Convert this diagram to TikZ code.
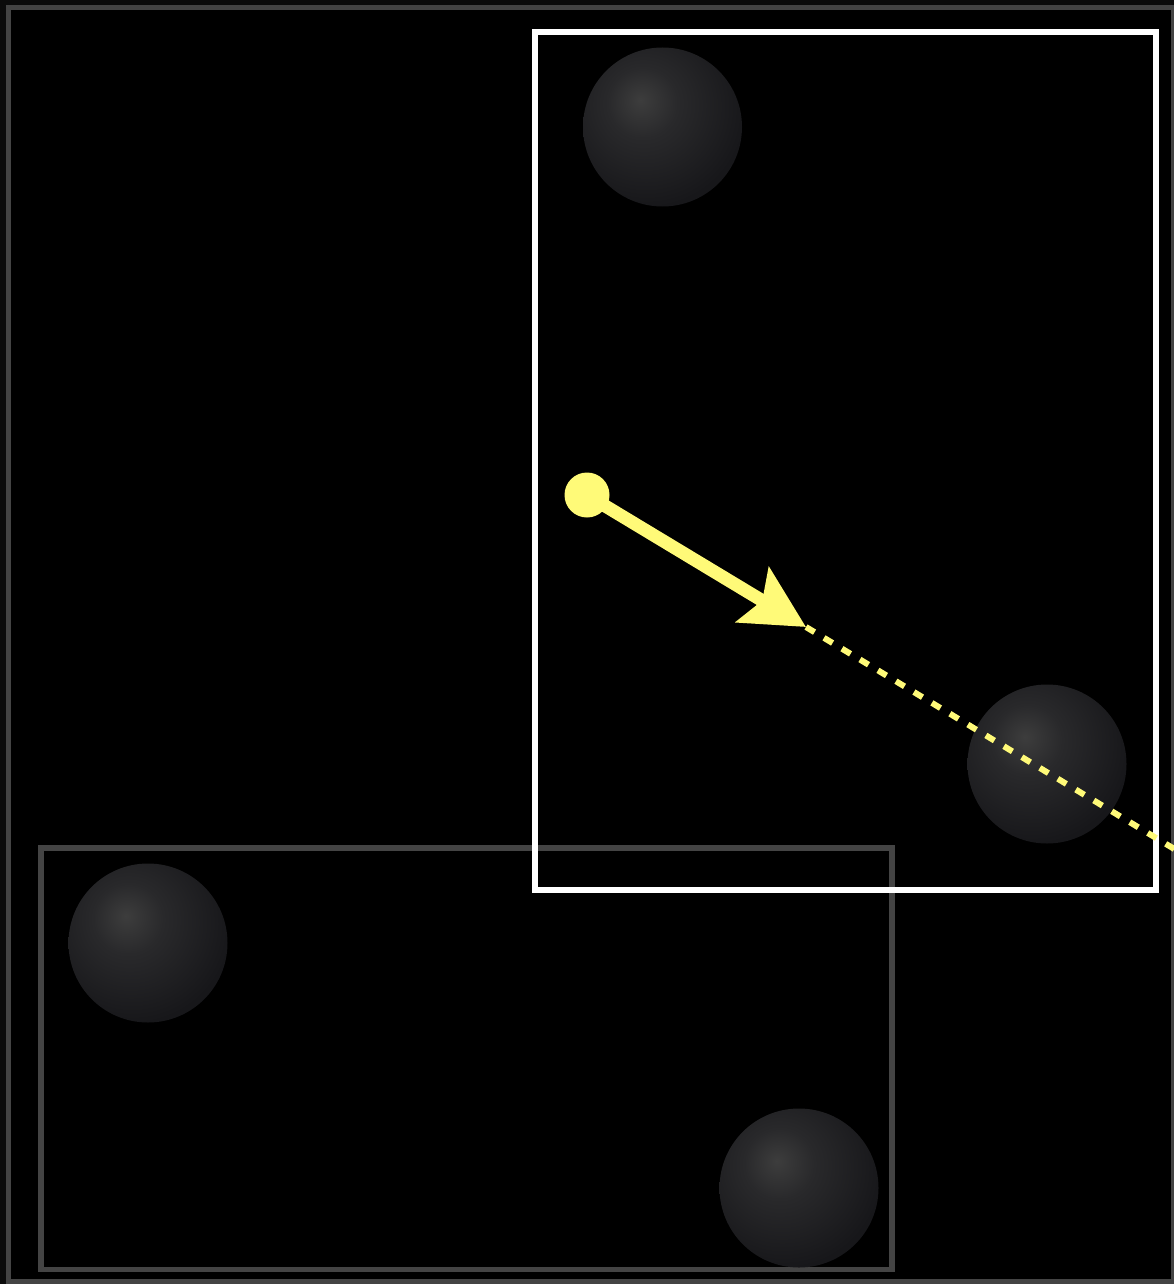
\documentclass[tikz,border=0pt]{standalone}
\usepackage{xcolor}
\usepackage{tikz}
\usetikzlibrary{
arrows.meta,
calc
}
\definecolor{bgouter}{HTML}{0B0B0B}
\definecolor{framegray}{HTML}{444444}
\definecolor{sunyellow}{RGB}{255,250,120}
\definecolor{sphhl}{HTML}{3D3D3D}
\definecolor{sphmid}{HTML}{29292B}
\definecolor{sphedge}{HTML}{17171A}
\pgfdeclareradialshading{sphereshade}{\pgfpoint{-7bp}{8.5bp}}{%
  color(0bp)=(sphhl); color(11bp)=(sphmid);
  color(31bp)=(sphedge); color(100bp)=(sphedge)}

\begin{document}
\begin{tikzpicture}[
  x=1pt, y=-1pt,
  >={Stealth},
  frame/.style={draw=framegray, line width=5.5pt},
  viewbox/.style={draw=white, line width=5.5pt},
  ball/.style={circle, minimum size=159pt, inner sep=0pt,
               shading=sphereshade},
  source/.style={circle, fill=sunyellow, minimum size=45pt, inner sep=0pt},
  push/.style={-{Stealth[length=62pt, width=63pt, inset=11pt]},
               sunyellow, line width=13pt},
  trail/.style={sunyellow, line width=6pt, dash pattern=on 10pt off 11pt}
]

\useasboundingbox (0, 0) rectangle (1174, 1284);
\clip (0, 0) rectangle (1174, 1284);

%% Background and outer frame
\fill[bgouter] (0, 0) rectangle (1174, 1284);
\fill[black] (8.5, 7.5) rectangle (1173.5, 1281.5);
\draw[frame] (8.5, 7.5) rectangle (1173.5, 1281.5);

%% ── REGIONS ─────────────────────────────────────────────────
\draw[frame] (41, 848) rectangle (892, 1269.5);
\draw[viewbox] (535, 32) rectangle (1156, 890);

%% ── SPHERES ─────────────────────────────────────────────────
\node[ball] (topball)   at (662.5, 127) {};
\node[ball] (rightball) at (1047, 764) {};
\node[ball] (leftball)  at (148, 943) {};
\node[ball] (lowball)   at (799, 1188) {};

%% ── LAUNCH ──────────────────────────────────────────────────
\node[source] (src) at (587, 495) {};
\coordinate (tip) at (806, 627);
\coordinate (far) at ($(src.center)!2.8!(tip)$);

\draw[trail] (tip) -- (far);
\draw[push] (src.center) -- (tip);

\end{tikzpicture}
\end{document}
